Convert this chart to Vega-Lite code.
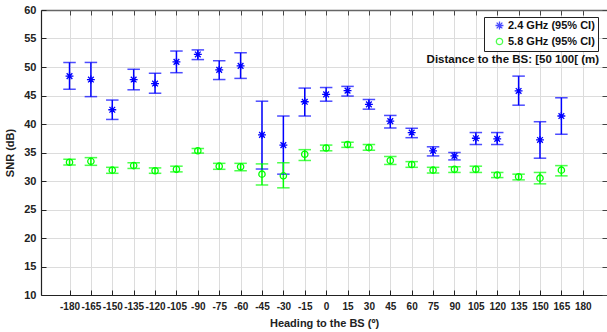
{
  "$schema": "https://vega.github.io/schema/vega-lite/v6.json",
  "width": 566,
  "height": 285,
  "autosize": {"type": "none"},
  "padding": {"left": 41, "top": 10, "right": 0, "bottom": 37},
  "background": "white",
  "config": {
    "view": {"stroke": null},
    "font": "Liberation Sans",
    "axis": {"labelFont": "Liberation Sans", "titleFont": "Liberation Sans", "labelColor": "#222", "titleColor": "#222"}
  },
  "data": {"values": [
    {"heading": -180, "band": "2.4 GHz (95% CI)", "snr": 48.4, "lo": 46.1, "hi": 50.8},
    {"heading": -165, "band": "2.4 GHz (95% CI)", "snr": 47.8, "lo": 44.8, "hi": 50.8},
    {"heading": -150, "band": "2.4 GHz (95% CI)", "snr": 42.5, "lo": 40.8, "hi": 44.2},
    {"heading": -135, "band": "2.4 GHz (95% CI)", "snr": 47.8, "lo": 46.0, "hi": 49.6},
    {"heading": -120, "band": "2.4 GHz (95% CI)", "snr": 47.1, "lo": 45.4, "hi": 48.9},
    {"heading": -105, "band": "2.4 GHz (95% CI)", "snr": 50.9, "lo": 49.0, "hi": 52.8},
    {"heading": -90, "band": "2.4 GHz (95% CI)", "snr": 52.2, "lo": 51.3, "hi": 53.0},
    {"heading": -75, "band": "2.4 GHz (95% CI)", "snr": 49.5, "lo": 47.8, "hi": 51.1},
    {"heading": -60, "band": "2.4 GHz (95% CI)", "snr": 50.2, "lo": 48.0, "hi": 52.5},
    {"heading": -45, "band": "2.4 GHz (95% CI)", "snr": 38.1, "lo": 32.1, "hi": 44.0},
    {"heading": -30, "band": "2.4 GHz (95% CI)", "snr": 36.3, "lo": 31.2, "hi": 41.4},
    {"heading": -15, "band": "2.4 GHz (95% CI)", "snr": 43.9, "lo": 41.4, "hi": 46.3},
    {"heading": 0, "band": "2.4 GHz (95% CI)", "snr": 45.2, "lo": 44.0, "hi": 46.4},
    {"heading": 15, "band": "2.4 GHz (95% CI)", "snr": 45.85, "lo": 44.9, "hi": 46.6},
    {"heading": 30, "band": "2.4 GHz (95% CI)", "snr": 43.45, "lo": 42.6, "hi": 44.3},
    {"heading": 45, "band": "2.4 GHz (95% CI)", "snr": 40.5, "lo": 39.3, "hi": 41.5},
    {"heading": 60, "band": "2.4 GHz (95% CI)", "snr": 38.5, "lo": 37.6, "hi": 39.25},
    {"heading": 75, "band": "2.4 GHz (95% CI)", "snr": 35.3, "lo": 34.4, "hi": 36.0},
    {"heading": 90, "band": "2.4 GHz (95% CI)", "snr": 34.4, "lo": 33.7, "hi": 35.0},
    {"heading": 105, "band": "2.4 GHz (95% CI)", "snr": 37.5, "lo": 36.4, "hi": 38.5},
    {"heading": 120, "band": "2.4 GHz (95% CI)", "snr": 37.4, "lo": 36.4, "hi": 38.5},
    {"heading": 135, "band": "2.4 GHz (95% CI)", "snr": 45.8, "lo": 43.3, "hi": 48.4},
    {"heading": 150, "band": "2.4 GHz (95% CI)", "snr": 37.2, "lo": 34.0, "hi": 40.4},
    {"heading": 165, "band": "2.4 GHz (95% CI)", "snr": 41.4, "lo": 38.2, "hi": 44.6},
    {"heading": -180, "band": "5.8 GHz (95% CI)", "snr": 33.3, "lo": 32.8, "hi": 33.8},
    {"heading": -165, "band": "5.8 GHz (95% CI)", "snr": 33.45, "lo": 32.75, "hi": 34.1},
    {"heading": -150, "band": "5.8 GHz (95% CI)", "snr": 31.9, "lo": 31.35, "hi": 32.4},
    {"heading": -135, "band": "5.8 GHz (95% CI)", "snr": 32.7, "lo": 32.2, "hi": 33.2},
    {"heading": -120, "band": "5.8 GHz (95% CI)", "snr": 31.8, "lo": 31.35, "hi": 32.3},
    {"heading": -105, "band": "5.8 GHz (95% CI)", "snr": 32.05, "lo": 31.6, "hi": 32.6},
    {"heading": -90, "band": "5.8 GHz (95% CI)", "snr": 35.3, "lo": 34.9, "hi": 35.7},
    {"heading": -75, "band": "5.8 GHz (95% CI)", "snr": 32.6, "lo": 32.05, "hi": 33.1},
    {"heading": -60, "band": "5.8 GHz (95% CI)", "snr": 32.5, "lo": 31.8, "hi": 33.1},
    {"heading": -45, "band": "5.8 GHz (95% CI)", "snr": 31.2, "lo": 29.3, "hi": 33.0},
    {"heading": -30, "band": "5.8 GHz (95% CI)", "snr": 30.9, "lo": 28.8, "hi": 33.2},
    {"heading": -15, "band": "5.8 GHz (95% CI)", "snr": 34.7, "lo": 33.6, "hi": 35.5},
    {"heading": 0, "band": "5.8 GHz (95% CI)", "snr": 35.8, "lo": 35.3, "hi": 36.3},
    {"heading": 15, "band": "5.8 GHz (95% CI)", "snr": 36.4, "lo": 35.9, "hi": 36.8},
    {"heading": 30, "band": "5.8 GHz (95% CI)", "snr": 35.85, "lo": 35.4, "hi": 36.4},
    {"heading": 45, "band": "5.8 GHz (95% CI)", "snr": 33.6, "lo": 32.9, "hi": 34.3},
    {"heading": 60, "band": "5.8 GHz (95% CI)", "snr": 32.9, "lo": 32.4, "hi": 33.4},
    {"heading": 75, "band": "5.8 GHz (95% CI)", "snr": 31.9, "lo": 31.4, "hi": 32.4},
    {"heading": 90, "band": "5.8 GHz (95% CI)", "snr": 32.05, "lo": 31.5, "hi": 32.5},
    {"heading": 105, "band": "5.8 GHz (95% CI)", "snr": 32.05, "lo": 31.5, "hi": 32.6},
    {"heading": 120, "band": "5.8 GHz (95% CI)", "snr": 31.05, "lo": 30.6, "hi": 31.5},
    {"heading": 135, "band": "5.8 GHz (95% CI)", "snr": 30.75, "lo": 30.2, "hi": 31.2},
    {"heading": 150, "band": "5.8 GHz (95% CI)", "snr": 30.5, "lo": 29.5, "hi": 31.5},
    {"heading": 165, "band": "5.8 GHz (95% CI)", "snr": 31.9, "lo": 30.9, "hi": 32.7}
  ]},
  "resolve": {"axis": {"x": "independent", "y": "independent"}},
  "layer": [
    {
      "mark": {"type": "point", "opacity": 0},
      "encoding": {
        "x": {"field": "heading", "type": "quantitative", "scale": {"domain": [-200, 197], "nice": false, "zero": false},
          "axis": {"orient": "bottom", "values": [-180,-165,-150,-135,-120,-105,-90,-75,-60,-45,-30,-15,0,15,30,45,60,75,90,105,120,135,150,165,180],
            "labelExpr": "'' + datum.value",
            "title": "Heading to the BS (º)", "titleFontSize": 11, "titleFontWeight": "bold", "titlePadding": 6,
            "labelFontSize": 10, "labelFontWeight": "bold", "labelPadding": 11, "tickSize": -5, "tickColor": "#222", "domainColor": "#222", "domainWidth": 1.2,
            "grid": true, "gridColor": "#dcdcdc", "gridWidth": 1, "labelOverlap": false}},
        "y": {"field": "snr", "type": "quantitative", "scale": {"domain": [10, 60], "nice": false, "zero": false},
          "axis": {"orient": "left", "values": [10,15,20,25,30,35,40,45,50,55,60],
            "title": "SNR (dB)", "titleFontSize": 11, "titleFontWeight": "bold", "titlePadding": 8,
            "labelFontSize": 11, "labelFontWeight": "bold", "labelPadding": 10, "tickSize": -5, "tickColor": "#222", "domainColor": "#222", "domainWidth": 1.2,
            "grid": true, "gridColor": "#dcdcdc", "gridWidth": 1}}
      }
    },
    {
      "mark": {"type": "rule", "strokeWidth": 1.5},
      "encoding": {
        "x": {"field": "heading", "type": "quantitative",
          "axis": {"orient": "top", "values": [-180,-165,-150,-135,-120,-105,-90,-75,-60,-45,-30,-15,0,15,30,45,60,75,90,105,120,135,150,165,180],
            "labels": false, "title": null, "grid": false, "tickSize": -5, "tickColor": "#444", "domainColor": "#666", "domainWidth": 1.5}},
        "y": {"field": "lo", "type": "quantitative",
          "axis": {"orient": "right", "values": [10,15,20,25,30,35,40,45,50,55,60], "labels": false, "title": null, "grid": false, "tickSize": -5, "tickColor": "#444", "domainColor": "#444"}},
        "y2": {"field": "hi"},
        "color": {"field": "band", "type": "nominal", "scale": {"domain": ["2.4 GHz (95% CI)", "5.8 GHz (95% CI)"], "range": ["#0000ff", "#00ff00"]}}
      }
    },
    {
      "mark": {"type": "tick", "orient": "horizontal", "size": 11, "thickness": 0.01, "filled": false, "strokeWidth": 1.5},
      "encoding": {
        "x": {"field": "heading", "type": "quantitative", "axis": null},
        "y": {"field": "lo", "type": "quantitative", "axis": null},
        "color": {"field": "band", "type": "nominal"}
      }
    },
    {
      "mark": {"type": "tick", "orient": "horizontal", "size": 11, "thickness": 0.01, "filled": false, "strokeWidth": 1.5},
      "encoding": {
        "x": {"field": "heading", "type": "quantitative", "axis": null},
        "y": {"field": "hi", "type": "quantitative", "axis": null},
        "color": {"field": "band", "type": "nominal"}
      }
    },
    {
      "mark": {"type": "point", "filled": false, "strokeWidth": 1.3, "opacity": 1, "size": 40},
      "encoding": {
        "x": {"field": "heading", "type": "quantitative", "axis": null},
        "y": {"field": "snr", "type": "quantitative", "axis": null},
        "color": {"field": "band", "type": "nominal",
          "legend": {"orient": "none", "legendX": 443, "legendY": 7, "title": null, "strokeColor": "#222", "fillColor": "white",
            "padding": 3, "labelFont": "Liberation Sans", "labelFontSize": 11, "labelFontWeight": "bold", "labelColor": "#111",
            "symbolStrokeWidth": 1.3, "symbolSize": 40, "symbolType": "circle", "rowPadding": 2, "labelOffset": 3, "symbolOffset": 7,
            "encode": {"symbols": {"update": {"fill": {"value": "transparent"}, "size": {"value": 40}, "strokeWidth": {"value": 1.3}}}}}},
        "shape": {"field": "band", "type": "nominal",
          "scale": {"domain": ["2.4 GHz (95% CI)", "5.8 GHz (95% CI)"], "range": ["M-1.25,0L1.25,0M0,-1.25L0,1.25M-0.9,-0.9L0.9,0.9M-0.9,0.9L0.9,-0.9", "circle"]}}
      }
    },
    {
      "data": {"values": [{"label": "Distance to the BS: [50 100[ (m)"}]},
      "mark": {"type": "text", "align": "right", "baseline": "middle", "font": "Liberation Sans", "fontSize": 11.5, "fontWeight": "bold", "color": "#111"},
      "encoding": {
        "x": {"datum": 191.5, "type": "quantitative", "axis": null},
        "y": {"datum": 51.2, "type": "quantitative", "axis": null},
        "text": {"field": "label", "type": "nominal"}
      }
    }
  ]
}
